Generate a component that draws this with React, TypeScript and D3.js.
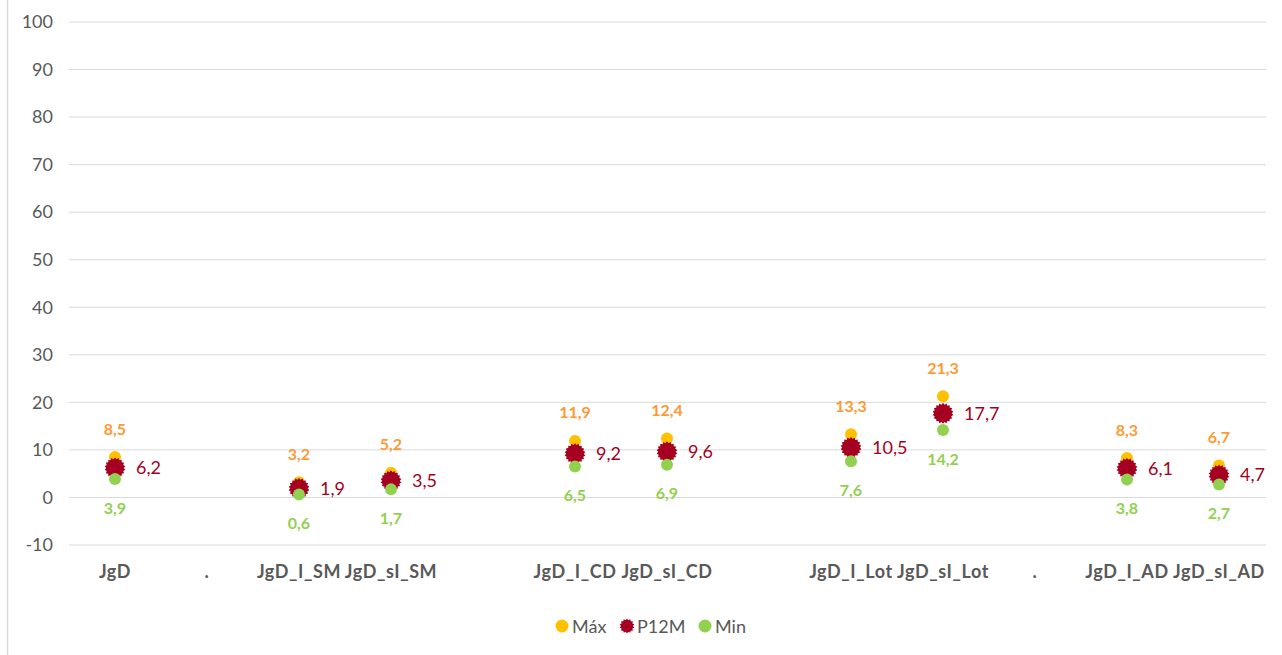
import React from "react";
import * as d3 from "d3";

const categories = ["JgD", ".", "JgD_I_SM", "JgD_sI_SM", "", "JgD_I_CD", "JgD_sI_CD", "", "JgD_I_Lot", "JgD_sI_Lot", ".", "JgD_I_AD", "JgD_sI_AD"];
const maxValues: (number | null)[] = [8.5, null, 3.2, 5.2, null, 11.9, 12.4, null, 13.3, 21.3, null, 8.3, 6.7];
const p12mValues: (number | null)[] = [6.2, null, 1.9, 3.5, null, 9.2, 9.6, null, 10.5, 17.7, null, 6.1, 4.7];
const minValues: (number | null)[] = [3.9, null, 0.6, 1.7, null, 6.5, 6.9, null, 7.6, 14.2, null, 3.8, 2.7];
const yTicks = [-10, 0, 10, 20, 30, 40, 50, 60, 70, 80, 90, 100];
const legendItems = ["Máx", "P12M", "Min"];

const W = 1282;
const H = 655;
const FONT = "Lato, 'Open Sans', sans-serif";

const COL_MAX = "#FFC000";
const COL_MAX_LBL = "#FF9933";
const COL_P12 = "#A50021";
const COL_MIN = "#92D050";
const TXT = "#595959";

function gearPath(rOuter: number, rInner: number, n: number): string {
  const pts: [number, number][] = [];
  for (let i = 0; i < n * 2; i++) {
    const a = (Math.PI * i) / n;
    const r = i % 2 === 0 ? rOuter : rInner;
    pts.push([a, r]);
  }
  const line = d3.lineRadial<[number, number]>().angle((d) => d[0]).radius((d) => d[1]).curve(d3.curveLinearClosed);
  return line(pts) || "";
}

const fmt = (v: number) => v.toFixed(1).replace(".", ",");

export default function App() {
  const x = d3.scaleBand<number>().domain(categories.map((_, i) => i)).range([69, 1265]);
  const y = d3.scaleLinear().domain([-10, 100]).range([545, 22]);
  const cx = (i: number) => (x(i) ?? 0) + x.bandwidth() / 2;
  const gear = gearPath(10.5, 8.8, 18);

  return (
    <svg width={W} height={H} style={{ position: "fixed", left: 0, top: 0, background: "#fff" }} fontFamily={FONT}>
      <rect x={0} y={0} width={W} height={H} fill="#fff" />
      <line x1={7.5} x2={7.5} y1={0} y2={H} stroke="#d9d9d9" strokeWidth={1.5} />
      {yTicks.map((t) => (
        <g key={t}>
          <line x1={69} x2={1266} y1={y(t)} y2={y(t)} stroke="#d9d9d9" strokeWidth={1} />
          <text x={53} y={y(t)} dy="0.35em" textAnchor="end" fontSize={18} fill={TXT}>
            {t}
          </text>
        </g>
      ))}
      {categories.map((c, i) => (
        <text key={i} x={cx(i)} y={578} textAnchor="middle" fontSize={18} letterSpacing={0.6} fontWeight="bold" fill={TXT}>
          {c}
        </text>
      ))}
      {categories.map((_, i) => {
        const mx = maxValues[i];
        const p = p12mValues[i];
        const mn = minValues[i];
        if (mx == null || p == null || mn == null) return null;
        const px = cx(i);
        return (
          <g key={"pt" + i}>
            <circle cx={px} cy={y(mx)} r={6} fill={COL_MAX} />
            <path d={gear} transform={`translate(${px},${y(p)})`} fill={COL_P12} />
            <circle cx={px} cy={y(mn)} r={6} fill={COL_MIN} />
            <text x={px} y={y(mx) - 28} dy="0.35em" textAnchor="middle" fontSize={16} fontWeight="bold" fill={COL_MAX_LBL}>
              {fmt(mx)}
            </text>
            <text x={px + 21} y={y(p)} dy="0.35em" textAnchor="start" fontSize={18} fill={COL_P12}>
              {fmt(p)}
            </text>
            <text x={px} y={y(mn) + 29} dy="0.35em" textAnchor="middle" fontSize={16} fontWeight="bold" fill={COL_MIN}>
              {fmt(mn)}
            </text>
          </g>
        );
      })}
      <g>
        <circle cx={562} cy={626} r={6.5} fill={COL_MAX} />
        <text x={572} y={627} dy="0.35em" fontSize={18} fill={TXT}>{legendItems[0]}</text>
        <path d={gearPath(7.5, 6, 14)} transform="translate(627,626)" fill={COL_P12} />
        <text x={637} y={627} dy="0.35em" fontSize={18} fill={TXT}>{legendItems[1]}</text>
        <circle cx={705} cy={626} r={6.5} fill={COL_MIN} />
        <text x={715} y={627} dy="0.35em" fontSize={18} fill={TXT}>{legendItems[2]}</text>
      </g>
    </svg>
  );
}
